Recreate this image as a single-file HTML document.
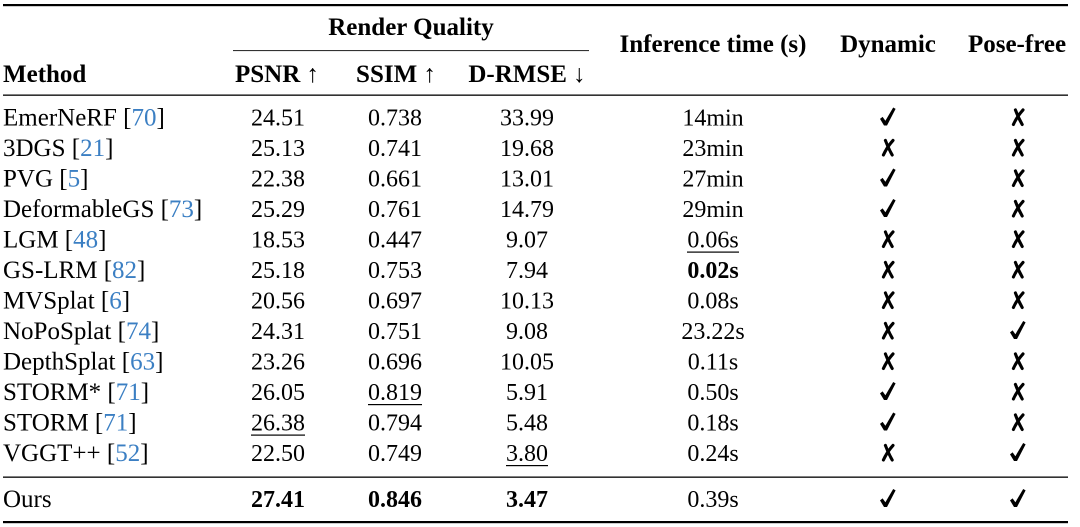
<!DOCTYPE html>
<html>
<head>
<meta charset="utf-8">
<style>
html,body{margin:0;padding:0;background:#fff;}
body{width:1080px;height:527px;overflow:hidden;}
svg{display:block;}
text{font-family:"Liberation Serif","DejaVu Serif",serif;font-size:24px;fill:#000;}
.b{font-weight:bold;}
.h{font-size:25px;}
.n{font-size:25px;}
.c{fill:#3b7fc3;}
.m{text-anchor:middle;}
</style>
</head>
<body>
<svg width="1080" height="527" viewBox="0 0 1080 527" xmlns="http://www.w3.org/2000/svg">
<defs>
<path id="chk" d="M0,11.4 L2.6,9.4 L5.4,13.2 L13.2,0 L15.6,1.4 L7,18 L4,18 Z" fill="#000"/>
<g id="crs" stroke="#000" stroke-width="3.1" stroke-linecap="round" fill="none">
<path d="M3.4,1.4 Q6.2,9 10.2,16"/>
<path d="M11,1.4 Q5,8 1.4,16"/>
</g>
</defs>

<!-- rules -->
<rect x="3" y="4" width="1065" height="2.2" fill="#000"/>
<rect x="233" y="50" width="356" height="1.1" fill="#333"/>
<rect x="3" y="94.5" width="1065" height="1.3" fill="#000"/>
<rect x="3" y="476.5" width="1065" height="1.3" fill="#000"/>
<rect x="3" y="521" width="1065" height="2.2" fill="#000"/>

<!-- header -->
<text class="b m h" x="411" y="35">Render Quality</text>
<text class="b h" x="3" y="82">Method</text>
<text class="m h" x="277" y="82"><tspan class="b">PSNR</tspan> ↑</text>
<text class="m h" x="396" y="82"><tspan class="b">SSIM</tspan> ↑</text>
<text class="m h" x="527" y="82"><tspan class="b">D-RMSE</tspan> ↓</text>
<text class="b m h" x="713" y="52">Inference time (s)</text>
<text class="b m h" x="888" y="52">Dynamic</text>
<text class="b m h" x="1017" y="52">Pose-free</text>

<g>
<text class="n" x="3" y="125.5">EmerNeRF [<tspan class="c">70</tspan>]</text>
<text class="m" x="278" y="125.5">24.51</text>
<text class="m" x="395" y="125.5">0.738</text>
<text class="m" x="527" y="125.5">33.99</text>
<text class="m" x="713" y="125.5">14min</text>
<use href="#chk" x="880" y="107.5"/>
<use href="#crs" x="1012" y="108.5"/>
</g>
<g>
<text class="n" x="3" y="156">3DGS [<tspan class="c">21</tspan>]</text>
<text class="m" x="278" y="156">25.13</text>
<text class="m" x="395" y="156">0.741</text>
<text class="m" x="527" y="156">19.68</text>
<text class="m" x="713" y="156">23min</text>
<use href="#crs" x="882" y="139"/>
<use href="#crs" x="1012" y="139"/>
</g>
<g>
<text class="n" x="3" y="186.5">PVG [<tspan class="c">5</tspan>]</text>
<text class="m" x="278" y="186.5">22.38</text>
<text class="m" x="395" y="186.5">0.661</text>
<text class="m" x="527" y="186.5">13.01</text>
<text class="m" x="713" y="186.5">27min</text>
<use href="#chk" x="880" y="168.5"/>
<use href="#crs" x="1012" y="169.5"/>
</g>
<g>
<text class="n" x="3" y="217">DeformableGS [<tspan class="c">73</tspan>]</text>
<text class="m" x="278" y="217">25.29</text>
<text class="m" x="395" y="217">0.761</text>
<text class="m" x="527" y="217">14.79</text>
<text class="m" x="713" y="217">29min</text>
<use href="#chk" x="880" y="199"/>
<use href="#crs" x="1012" y="200"/>
</g>
<g>
<text class="n" x="3" y="247.5">LGM [<tspan class="c">48</tspan>]</text>
<text class="m" x="278" y="247.5">18.53</text>
<text class="m" x="395" y="247.5">0.447</text>
<text class="m" x="527" y="247.5">9.07</text>
<text class="m" x="713" y="247.5">0.06s</text>
<rect x="687" y="251.5" width="52" height="1.2" fill="#000"/>
<use href="#crs" x="882" y="230.5"/>
<use href="#crs" x="1012" y="230.5"/>
</g>
<g>
<text class="n" x="3" y="278">GS-LRM [<tspan class="c">82</tspan>]</text>
<text class="m" x="278" y="278">25.18</text>
<text class="m" x="395" y="278">0.753</text>
<text class="m" x="527" y="278">7.94</text>
<text class="m b" x="713" y="278">0.02s</text>
<use href="#crs" x="882" y="261"/>
<use href="#crs" x="1012" y="261"/>
</g>
<g>
<text class="n" x="3" y="308.5">MVSplat [<tspan class="c">6</tspan>]</text>
<text class="m" x="278" y="308.5">20.56</text>
<text class="m" x="395" y="308.5">0.697</text>
<text class="m" x="527" y="308.5">10.13</text>
<text class="m" x="713" y="308.5">0.08s</text>
<use href="#crs" x="882" y="291.5"/>
<use href="#crs" x="1012" y="291.5"/>
</g>
<g>
<text class="n" x="3" y="339">NoPoSplat [<tspan class="c">74</tspan>]</text>
<text class="m" x="278" y="339">24.31</text>
<text class="m" x="395" y="339">0.751</text>
<text class="m" x="527" y="339">9.08</text>
<text class="m" x="713" y="339">23.22s</text>
<use href="#crs" x="882" y="322"/>
<use href="#chk" x="1010" y="321"/>
</g>
<g>
<text class="n" x="3" y="369.5">DepthSplat [<tspan class="c">63</tspan>]</text>
<text class="m" x="278" y="369.5">23.26</text>
<text class="m" x="395" y="369.5">0.696</text>
<text class="m" x="527" y="369.5">10.05</text>
<text class="m" x="713" y="369.5">0.11s</text>
<use href="#crs" x="882" y="352.5"/>
<use href="#crs" x="1012" y="352.5"/>
</g>
<g>
<text class="n" x="3" y="400">STORM* [<tspan class="c">71</tspan>]</text>
<text class="m" x="278" y="400">26.05</text>
<text class="m" x="395" y="400">0.819</text>
<rect x="368" y="404" width="54" height="1.2" fill="#000"/>
<text class="m" x="527" y="400">5.91</text>
<text class="m" x="713" y="400">0.50s</text>
<use href="#chk" x="880" y="382"/>
<use href="#crs" x="1012" y="383"/>
</g>
<g>
<text class="n" x="3" y="430.5">STORM [<tspan class="c">71</tspan>]</text>
<text class="m" x="278" y="430.5">26.38</text>
<rect x="251" y="434.5" width="54" height="1.2" fill="#000"/>
<text class="m" x="395" y="430.5">0.794</text>
<text class="m" x="527" y="430.5">5.48</text>
<text class="m" x="713" y="430.5">0.18s</text>
<use href="#chk" x="880" y="412.5"/>
<use href="#crs" x="1012" y="413.5"/>
</g>
<g>
<text class="n" x="3" y="461">VGGT++ [<tspan class="c">52</tspan>]</text>
<text class="m" x="278" y="461">22.50</text>
<text class="m" x="395" y="461">0.749</text>
<text class="m" x="527" y="461">3.80</text>
<rect x="506" y="465" width="42" height="1.2" fill="#000"/>
<text class="m" x="713" y="461">0.24s</text>
<use href="#crs" x="882" y="444"/>
<use href="#chk" x="1010" y="443"/>
</g>
<g>
<text class="n" x="3" y="507">Ours</text>
<text class="m b" x="278" y="507">27.41</text>
<text class="m b" x="395" y="507">0.846</text>
<text class="m b" x="527" y="507">3.47</text>
<text class="m" x="713" y="507">0.39s</text>
<use href="#chk" x="880" y="489"/>
<use href="#chk" x="1010" y="489"/>
</g>
</svg>
</body>
</html>
